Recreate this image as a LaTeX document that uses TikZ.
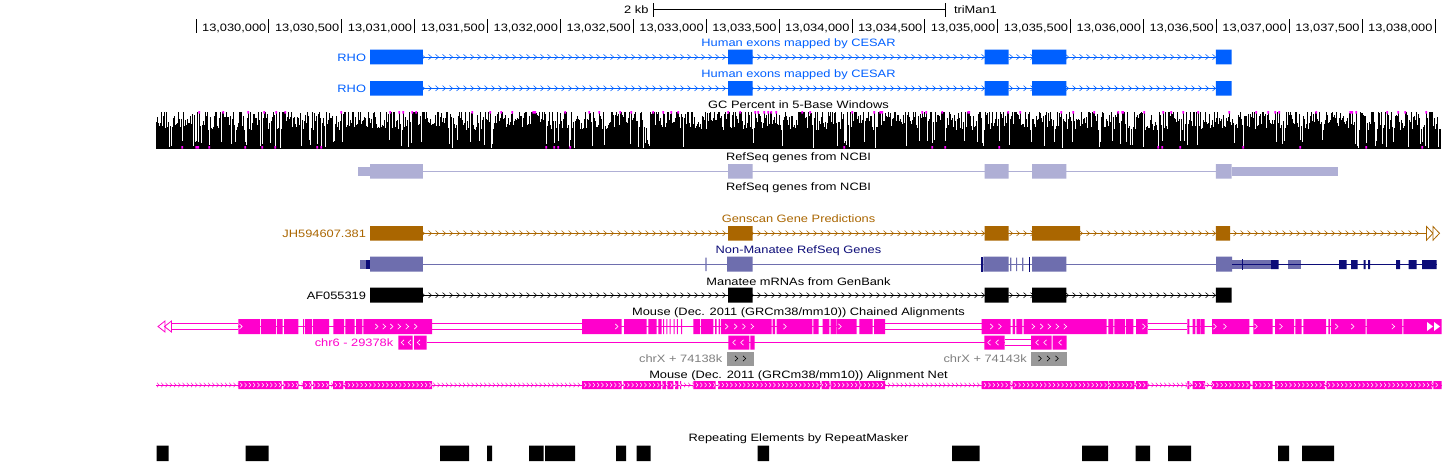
\documentclass[tikz,border=0pt]{standalone}
\usepackage{fontspec}
\setmainfont{Liberation Sans}[FakeStretch=1.2]
\definecolor{cesar}{RGB}{0,96,255}
\definecolor{refs}{RGB}{175,175,213}
\definecolor{gens}{RGB}{170,102,0}
\definecolor{nmL}{RGB}{110,110,174}
\definecolor{nmD}{RGB}{12,12,120}
\definecolor{mag}{RGB}{255,0,204}
\definecolor{gcmag}{RGB}{255,0,255}
\definecolor{chrxg}{RGB}{153,153,153}
\definecolor{chrxt}{RGB}{128,128,128}
\newcommand\gbChevs[7]{\pgfmathsetmacro\gbA{#2}\pgfmathsetmacro\gbB{#2+#5}\pgfmathsetmacro\gbE{#3}%
  \foreach \cx in {\gbA,\gbB,...,\gbE}{\draw[#1] (\cx-#7/2,#4-#6) -- (\cx+#7/2,#4) -- (\cx-#7/2,#4+#6);}}
\newcommand\gbRc[3]{\draw[#1] (#2-1.5,#3-2.6) -- (#2+1.3,#3) -- (#2-1.5,#3+2.6);}
\newcommand\gbLc[3]{\draw[#1] (#2+1.5,#3-2.6) -- (#2-1.3,#3) -- (#2+1.5,#3+2.6);}
\newcommand\gbGene[3]{% color, y-centre, list of x1/x2
  \fill[#1] \foreach \a/\b in {#3} {(\a,#2-7.3) rectangle (\b,#2+7.3)};}
\begin{document}
\begin{tikzpicture}[x=1pt,y=-1pt,
  every node/.style={inner sep=0pt,outer sep=0pt,font=\fontsize{10.7}{12}\selectfont},
  ttl/.style={anchor=base},
  rlab/.style={anchor=base east},
  chevI/.style={line width=0.55pt},
  wchev/.style={white,line width=0.6pt}]
\useasboundingbox (0,0) rectangle (1443,461);
\fill[white] (0,0) rectangle (1443,461);

% ---------- ruler ----------
\node[rlab] (t2kb) at (648.5,13.3) {2 kb};
\draw[line width=0.8pt] (653,9.3) -- (945,9.3);
\draw[line width=0.8pt] (653,3.3) -- (653,17) (945,3.3) -- (945,17);
\node[anchor=base west] (ttri) at (954,13.3) {triMan1};
\foreach \k in {0,...,17}{\pgfmathsetmacro\tx{196+\k*72.88}\draw[line width=0.8pt] (\tx,19) -- (\tx,33);}
\foreach \k/\t in {1/{13,030,000},2/{13,030,500},3/{13,031,000},4/{13,031,500},5/{13,032,000},6/{13,032,500},7/{13,033,000},8/{13,033,500},9/{13,034,000},10/{13,034,500},11/{13,035,000},12/{13,035,500},13/{13,036,000},14/{13,036,500},15/{13,037,000},16/{13,037,500},17/{13,038,000}}{%
  \pgfmathsetmacro\tx{196+\k*72.88-2.5}\node[rlab] (rl\k) at (\tx,31) {\t};}

% ---------- CESAR ----------
\node[ttl,text=cesar] (tces1) at (798.5,46.8) {Human exons mapped by CESAR};
\node[rlab,text=cesar] (rho1) at (366,61) {RHO};
\draw[cesar,line width=0.9pt] (370,57) -- (1216,57);
\gbChevs{cesar,chevI}{374}{1214}{57}{7}{2.7}{3}
\gbGene{cesar}{57}{370/422.8,728/752.7,984.6/1008.5,1032/1066.4,1215.8/1231.7}

\node[ttl,text=cesar] (tces2) at (798.5,77.8) {Human exons mapped by CESAR};
\node[rlab,text=cesar] (rho2) at (366,92.2) {RHO};
\draw[cesar,line width=0.9pt] (370,88.3) -- (1216,88.3);
\gbChevs{cesar,chevI}{374}{1214}{88.3}{7}{2.7}{3}
\gbGene{cesar}{88.3}{370/422.8,728/752.7,984.6/1008.5,1032/1066.4,1215.8/1231.7}

% ---------- GC percent ----------
\node[ttl] (tgc) at (798.5,108.8) {GC Percent in 5-Base Windows};
\pgfmathsetseed{11}
\gdef\gbTopL{}\gdef\gbBotL{}
\foreach \i in {0,...,1284}{%
  \pgfmathtruncatemacro\gk{1000*rnd}%
  \pgfmathsetmacro\gh{\gk<100 ? 9*rnd : (\gk>945 ? 37 : 37*min(1,0.5+0.62*rnd))}%
  \fill[black] (155.5+\i,148.5) rectangle (156.5+\i,148.5-\gh);
  \ifnum\gk>945 \xdef\gbTopL{\gbTopL (155.4+\i,111) rectangle ++(1.8,2.6) }\fi
  \ifnum\gk<18 \xdef\gbBotL{\gbBotL (155.4+\i,146.2) rectangle ++(1.8,2.5) }\fi
}
\fill[gcmag] \gbTopL;
\fill[gcmag] \gbBotL;

% ---------- RefSeq ----------
\node[ttl] (trs1) at (798.5,160.3) {RefSeq genes from NCBI};
\draw[refs,line width=0.9pt] (370,171.3) -- (1216,171.3);
\fill[refs] (358,167) rectangle (370,175.7);
\fill[refs] (1231.7,167) rectangle (1337.7,175.7);
\fill[refs] \foreach \a/\b in {370/422.8,728/752.7,984.6/1008.5,1032/1066.4,1215.8/1231.7} {(\a,164) rectangle (\b,178.7)};
\node[ttl] (trs2) at (798.5,190.6) {RefSeq genes from NCBI};

% ---------- Genscan ----------
\node[ttl,text=gens] (tgen) at (798.5,222.8) {Genscan Gene Predictions};
\node[rlab,text=gens] (jh) at (366,237.2) {JH594607.381};
\draw[gens,line width=0.9pt] (370,233.3) -- (1426,233.3);
\gbChevs{gens,chevI}{374}{1422}{233.3}{7}{2.7}{3}
\fill[gens] \foreach \a/\b in {370/422.8,728/752.7,984.6/1008.5,1032/1080,1215.8/1230} {(\a,226) rectangle (\b,240.7)};
\draw[gens,line width=0.8pt,fill=white] (1426.5,226.5) -- (1433,233.3) -- (1426.5,240.2) -- cycle;
\draw[gens,line width=0.8pt,fill=white] (1433,226.5) -- (1439.5,233.3) -- (1433,240.2) -- cycle;

% ---------- Non-Manatee RefSeq ----------
\node[ttl,text=nmD] (tnm) at (798.5,253.5) {Non-Manatee RefSeq Genes};
\draw[nmL,line width=0.9pt] (370,264.5) -- (1216,264.5);
\fill[nmL] (360,260) rectangle (365.6,269);
\fill[nmD] (365.6,260) rectangle (370,269);
\fill[nmL] \foreach \a/\b in {370/422.8,727/752.7,983.3/1008.5,1032/1066.4,1216/1232} {(\a,256.7) rectangle (\b,271.7)};
\fill[nmD] (981,256.7) rectangle (983.3,271.7);
\fill[nmL] \foreach \a in {705.3,1010.2,1016,1022.1} {(\a,257.5) rectangle (\a+1.2,271)};
\fill[nmD] (1029.2,256.7) rectangle (1030.4,271.7);
\fill[nmL] (1232,260.3) rectangle (1271.5,268.7);
\fill[nmL] (1288,260.3) rectangle (1301,268.7);
\draw[nmD,line width=1pt] (1232,264.6) -- (1436.7,264.6);
\draw[nmD,line width=1pt] (1242.3,259) -- (1242.3,270);
\fill[nmD] \foreach \a/\b in {1271/1278.7,1339/1346.7,1351/1357.7,1363.7/1365.7,1368/1370,1396/1400,1408.7/1416.7,1422/1436.7} {(\a,260) rectangle (\b,269)};

% ---------- Manatee mRNAs ----------
\node[ttl] (tmm) at (798.5,285.4) {Manatee mRNAs from GenBank};
\node[rlab] (af) at (366,299.1) {AF055319};
\draw[black,line width=0.9pt] (370,295.2) -- (1216,295.2);
\gbChevs{black,chevI}{374}{1214}{295.2}{7}{2.7}{3}
\fill[black] \foreach \a/\b in {370/422.8,728/752.7,984.6/1008.5,1032/1066.4,1215.8/1231.7} {(\a,287.7) rectangle (\b,302.7)};

% ---------- Chained alignments ----------
\node[ttl] (tch) at (798.5,315.2) {Mouse (Dec. 2011 (GRCm38/mm10)) Chained Alignments};
% row 1
\draw[mag,line width=0.9pt] \foreach \a/\b in {171.5/238.3,432/582,885/981.7,1147.7/1187.3} {(\a,323.2) -- (\b,323.2) (\a,329.8) -- (\b,329.8)};
\draw[mag,line width=0.9pt] \foreach \a/\b in {238.3/432,582/885,981.7/1147.7,1187.3/1441} {(\a,326.5) -- (\b,326.5)};
\draw[mag,line width=0.8pt] (158,326.5) -- (165,321) -- (165,332) -- cycle;
\draw[mag,line width=0.8pt] (164.5,326.5) -- (171.5,321) -- (171.5,332) -- cycle;
\fill[mag] \foreach \a/\b in {238.3/260,261/276,277/282.7,284/298.3,303/304,305/312,313/329,333.3/344,345.3/354.7,356/362.3,363.3/432,
  582/621.7,624/646.7,648.3/656.7,658.3/661.7,663/664,666.3/667.3,669.6/670.6,673.5/674.5,676.8/677.8,681.2/682.2,
  693.3/700,701/713.3,715/716.7,718.7/720,721/771.7,772.7/775,776.7/812.3,813.3/818.7,822.7/829.3,830.7/836,836.7/856.7,859.3/872.7,874/885,
  981.7/1010.5,1012.5/1015,1016.3/1022.3,1023.7/1106.7,1108.3/1113.3,1114.3/1125,1126/1133.3,1136/1147.7,
  1187.3/1189.3,1192.7/1195.3,1196.7/1200,1200.7/1204.7,1212/1249.3,1253.3/1272.7,1275/1294,1295.3/1301.7,1303.3/1326,1328.3/1330,1331/1365.7,1366.7/1402.3,1403.3/1441.5}
  {(\a,319) rectangle (\b,334)};
\foreach \cx in {240.9,376.7,384.3,391.7,399.3,407.3,415.7,616.7,726.7,735.7,744,752.3,785,840,991.7,1000,1033.3,1041.7,1049.3,1057.3,1065.3,1144,1215,1225,1256,1281,1336.7,1352.7,1393.3}{\gbRc{wchev}{\cx}{326.5}}
\fill[white] (1427,322) -- (1433,326.5) -- (1427,331) -- cycle;
\fill[white] (1434,322) -- (1440,326.5) -- (1434,331) -- cycle;
% row 2
\node[rlab,text=mag] (chr6) at (393.3,346.4) {chr6 - 29378k};
\draw[mag,line width=0.9pt] (426.7,342.5) -- (1004.5,342.5);
\draw[mag,line width=0.9pt] (1004.5,339.3) -- (1031,339.3) (1004.5,345.7) -- (1031,345.7);
\fill[mag] \foreach \a/\b in {398.3/412.7,414/426.7,728.3/749.3,750.3/754.7,984.3/1004.5,1031/1051.7,1052.7/1066.7} {(\a,335.5) rectangle (\b,349.5)};
\foreach \cx in {402.5,409.5,418.5,734,742,989,997,1037,1045,1060}{\gbLc{wchev}{\cx}{342.5}}
% row 3
\node[rlab,text=chrxt] (chrxa) at (722.3,362.4) {chrX + 74138k};
\node[rlab,text=chrxt] (chrxb) at (1026.7,362.4) {chrX + 74143k};
\fill[chrxg] (727,351.5) rectangle (753.7,365.5);
\fill[chrxg] (1031,351.5) rectangle (1066.7,365.5);
\foreach \cx in {736.5,744.5,1040,1048.5,1057}{\gbRc{black,line width=0.6pt}{\cx}{358.5}}

% ---------- Net ----------
\node[ttl] (tnet) at (798.5,378.6) {Mouse (Dec. 2011 (GRCm38/mm10)) Alignment Net};
\def\gbNet{238.3/281.7,283.3/298.3,303/311.3,313/329,333/343.3,345/432,582/621.7,623.3/661,662.3/666,667.3/673.3,675/678.3,680/681,693.3/715.7,718/820,821.7/829.3,830.7/859.3,860/885,981.7/1010.7,1012.7/1108.3,1109/1134.3,1136/1147.7,1187.3/1189.3,1192.7/1205,1212/1250,1252.7/1272.7,1275/1325,1326.7/1432,1433.3/1441.5}
\draw[mag,line width=0.7pt] (156,385) -- (1441.5,385);
\gbChevs{mag,line width=0.5pt}{158}{1440}{385}{4.25}{2.2}{2}
\fill[mag] \foreach \a/\b in \gbNet {(\a,381) rectangle (\b,389)};
\begin{scope}
  \clip \foreach \a/\b in \gbNet {(\a,381) rectangle (\b,389)};
  \gbChevs{white,line width=0.5pt}{159.5}{1440}{385}{4.3}{2.2}{2}
\end{scope}

% ---------- RepeatMasker ----------
\node[ttl] (trep) at (798.5,441) {Repeating Elements by RepeatMasker};
\fill[black] \foreach \a/\b in {156.6/168.5,245.6/268.7,440/469,487/492,529/543.5,545/575,616/626,636.5/650.5,757.7/769,952/979.5,1082/1108,1135.5/1150,1168/1191,1278/1289,1302/1334} {(\a,445.5) rectangle (\b,461)};
\end{tikzpicture}
\end{document}
